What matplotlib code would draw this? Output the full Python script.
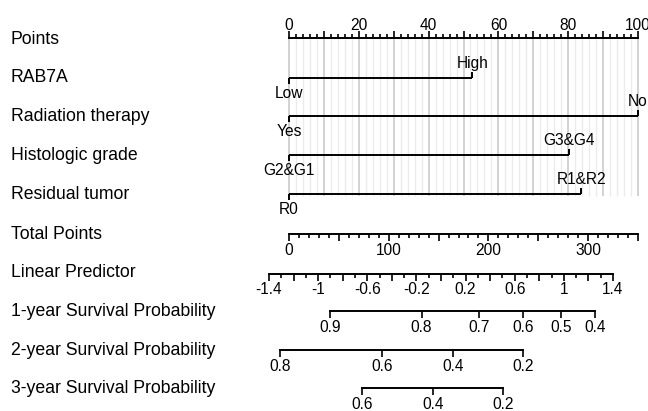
import matplotlib
matplotlib.use("Agg")
import matplotlib.pyplot as plt
import matplotlib.transforms as mtransforms
from matplotlib.ticker import FixedLocator, FixedFormatter, FuncFormatter
import numpy as np

plt.rcParams['font.family'] = ['Liberation Sans', 'DejaVu Sans']
plt.rcParams['axes.unicode_minus'] = False

# predictors: reference level sits at 0 points, the other level at high_points
var_names = ["RAB7A", "Radiation therapy", "Histologic grade", "Residual tumor"]
low_levels = ["Low", "Yes", "G2&G1", "R0"]
high_levels = ["High", "No", "G3&G4", "R1&R2"]
high_points = [52.5, 100, 80.2, 83.7]

total_max = 350
lp_at_total = (-1.237, 1.604)  # linear predictor at 0 and at 350 total points
lp_ticks = [-1.4, -1, -0.6, -0.2, 0.2, 0.6, 1, 1.4]

surv_names = ["1-year Survival Probability", "2-year Survival Probability",
              "3-year Survival Probability"]
surv_labels = [["0.9", "0.8", "0.7", "0.6", "0.5", "0.4"],
               ["0.8", "0.6", "0.4", "0.2"],
               ["0.6", "0.4", "0.2"]]
surv_total_points = [[41, 133, 190.5, 235, 273, 307],
                     [-9, 93, 164.5, 235],
                     [73, 144.5, 214.5]]

# layout in pixels
W, H = 648, 411
px0, px1 = 289, 638          # where 0 and 100 points sit
L, R = 255, 646              # frame of the scale axes
label_x = 11
points_y = 38
var_y = [78, 116, 155, 194]
total_y = 234
lp_y = 274
surv_y = [311, 350, 388]
LABEL_FS = 12.7
TICK_FS = 11.2
LW = 1.4

fig = plt.figure(figsize=(W / 100, H / 100), dpi=100)
ppu = (px1 - px0) / 100
ax = fig.add_axes([0, 0, 1, 1])
ax.set_xlim(-px0 / ppu, (W - px0) / ppu)
ax.set_ylim(H, 0)
ax.axis('off')
lab_tr = mtransforms.blended_transform_factory(ax.transAxes, ax.transData)

# vertical reference lines
for p in np.arange(0, 101, 2):
    major = p % 10 == 0
    ax.vlines(p, points_y, var_y[-1] + 2, color='#cfcfcf' if major else '#ebebeb',
              lw=1.3 if major else 1.0, zorder=0)

# predictor rows
for i, name in enumerate(var_names):
    y = var_y[i]
    hp = high_points[i]
    ax.plot([0, hp], [y, y], color='black', lw=LW, solid_capstyle='butt')
    ax.plot([0, 0], [y, y + 6], color='black', lw=LW, solid_capstyle='butt')
    ax.plot([hp, hp], [y - 6, y], color='black', lw=LW, solid_capstyle='butt')
    ax.text(hp, y - 7, high_levels[i], ha='center', va='bottom', fontsize=TICK_FS)
    ax.text(0, y + 8, low_levels[i], ha='center', va='top', fontsize=TICK_FS)


def scale_axes(y, v0, v1, side='bottom', pad=1.5):
    a = (v1 - v0) / (px1 - px0)
    sax = fig.add_axes([L / W, 1 - y / H, (R - L) / W, 0.0001])
    sax.set_xlim(v0 + a * (L - px0), v0 + a * (R - px0))
    sax.patch.set_visible(False)
    sax.yaxis.set_visible(False)
    for s in sax.spines.values():
        s.set_visible(False)
    sax.spines[side].set_visible(True)
    sax.spines[side].set_linewidth(LW)
    sax.xaxis.set_ticks_position(side)
    sax.tick_params(axis='x', which='both', direction='out', width=1.2,
                    labelsize=TICK_FS, pad=pad)
    sax.tick_params(axis='x', which='major', length=5)
    sax.tick_params(axis='x', which='minor', length=3)
    return sax


# Points
pax = scale_axes(points_y, 0, 100, side='top', pad=-1.5)
pax.spines['top'].set_bounds(0, 100)
pax.xaxis.set_major_locator(FixedLocator(np.arange(0, 101, 10)))
pax.xaxis.set_minor_locator(FixedLocator(np.arange(0, 101, 2)))
pax.xaxis.set_major_formatter(FuncFormatter(lambda v, p: f"{v:g}" if v % 20 == 0 else ""))

# Total points
tax = scale_axes(total_y, 0, total_max)
tax.spines['bottom'].set_bounds(0, total_max)
tax.xaxis.set_major_locator(FixedLocator(np.arange(0, total_max + 1, 50)))
tax.xaxis.set_minor_locator(FixedLocator(np.arange(0, total_max + 1, 10)))
tax.xaxis.set_major_formatter(FuncFormatter(lambda v, p: f"{v:g}" if v % 100 == 0 else ""))

# Linear predictor
lax = scale_axes(lp_y, *lp_at_total, pad=1.0)
lax.spines['bottom'].set_bounds(lp_ticks[0], lp_ticks[-1])
lax.xaxis.set_major_locator(FixedLocator(np.arange(-14, 15, 2) / 10))
lax.xaxis.set_minor_locator(FixedLocator(np.arange(-14, 15) / 10))
lax.xaxis.set_major_formatter(FuncFormatter(
    lambda v, p: f"{v:g}" if any(abs(v - t) < 1e-6 for t in lp_ticks) else ""))

# survival probabilities
for i in range(3):
    sax = scale_axes(surv_y[i], 0, total_max)
    pos = surv_total_points[i]
    sax.spines['bottom'].set_bounds(min(pos), max(pos))
    sax.xaxis.set_major_locator(FixedLocator(pos))
    sax.xaxis.set_major_formatter(FixedFormatter(surv_labels[i]))

# row labels
row_names = ["Points"] + var_names + ["Total Points", "Linear Predictor"] + surv_names
row_y = [points_y + 2] + var_y + [total_y, lp_y - 2] + surv_y
for name, y in zip(row_names, row_y):
    ax.text(label_x / W, y, name, transform=lab_tr, ha='left', va='center',
            fontsize=LABEL_FS)

fig.savefig("out.png", dpi=100)
